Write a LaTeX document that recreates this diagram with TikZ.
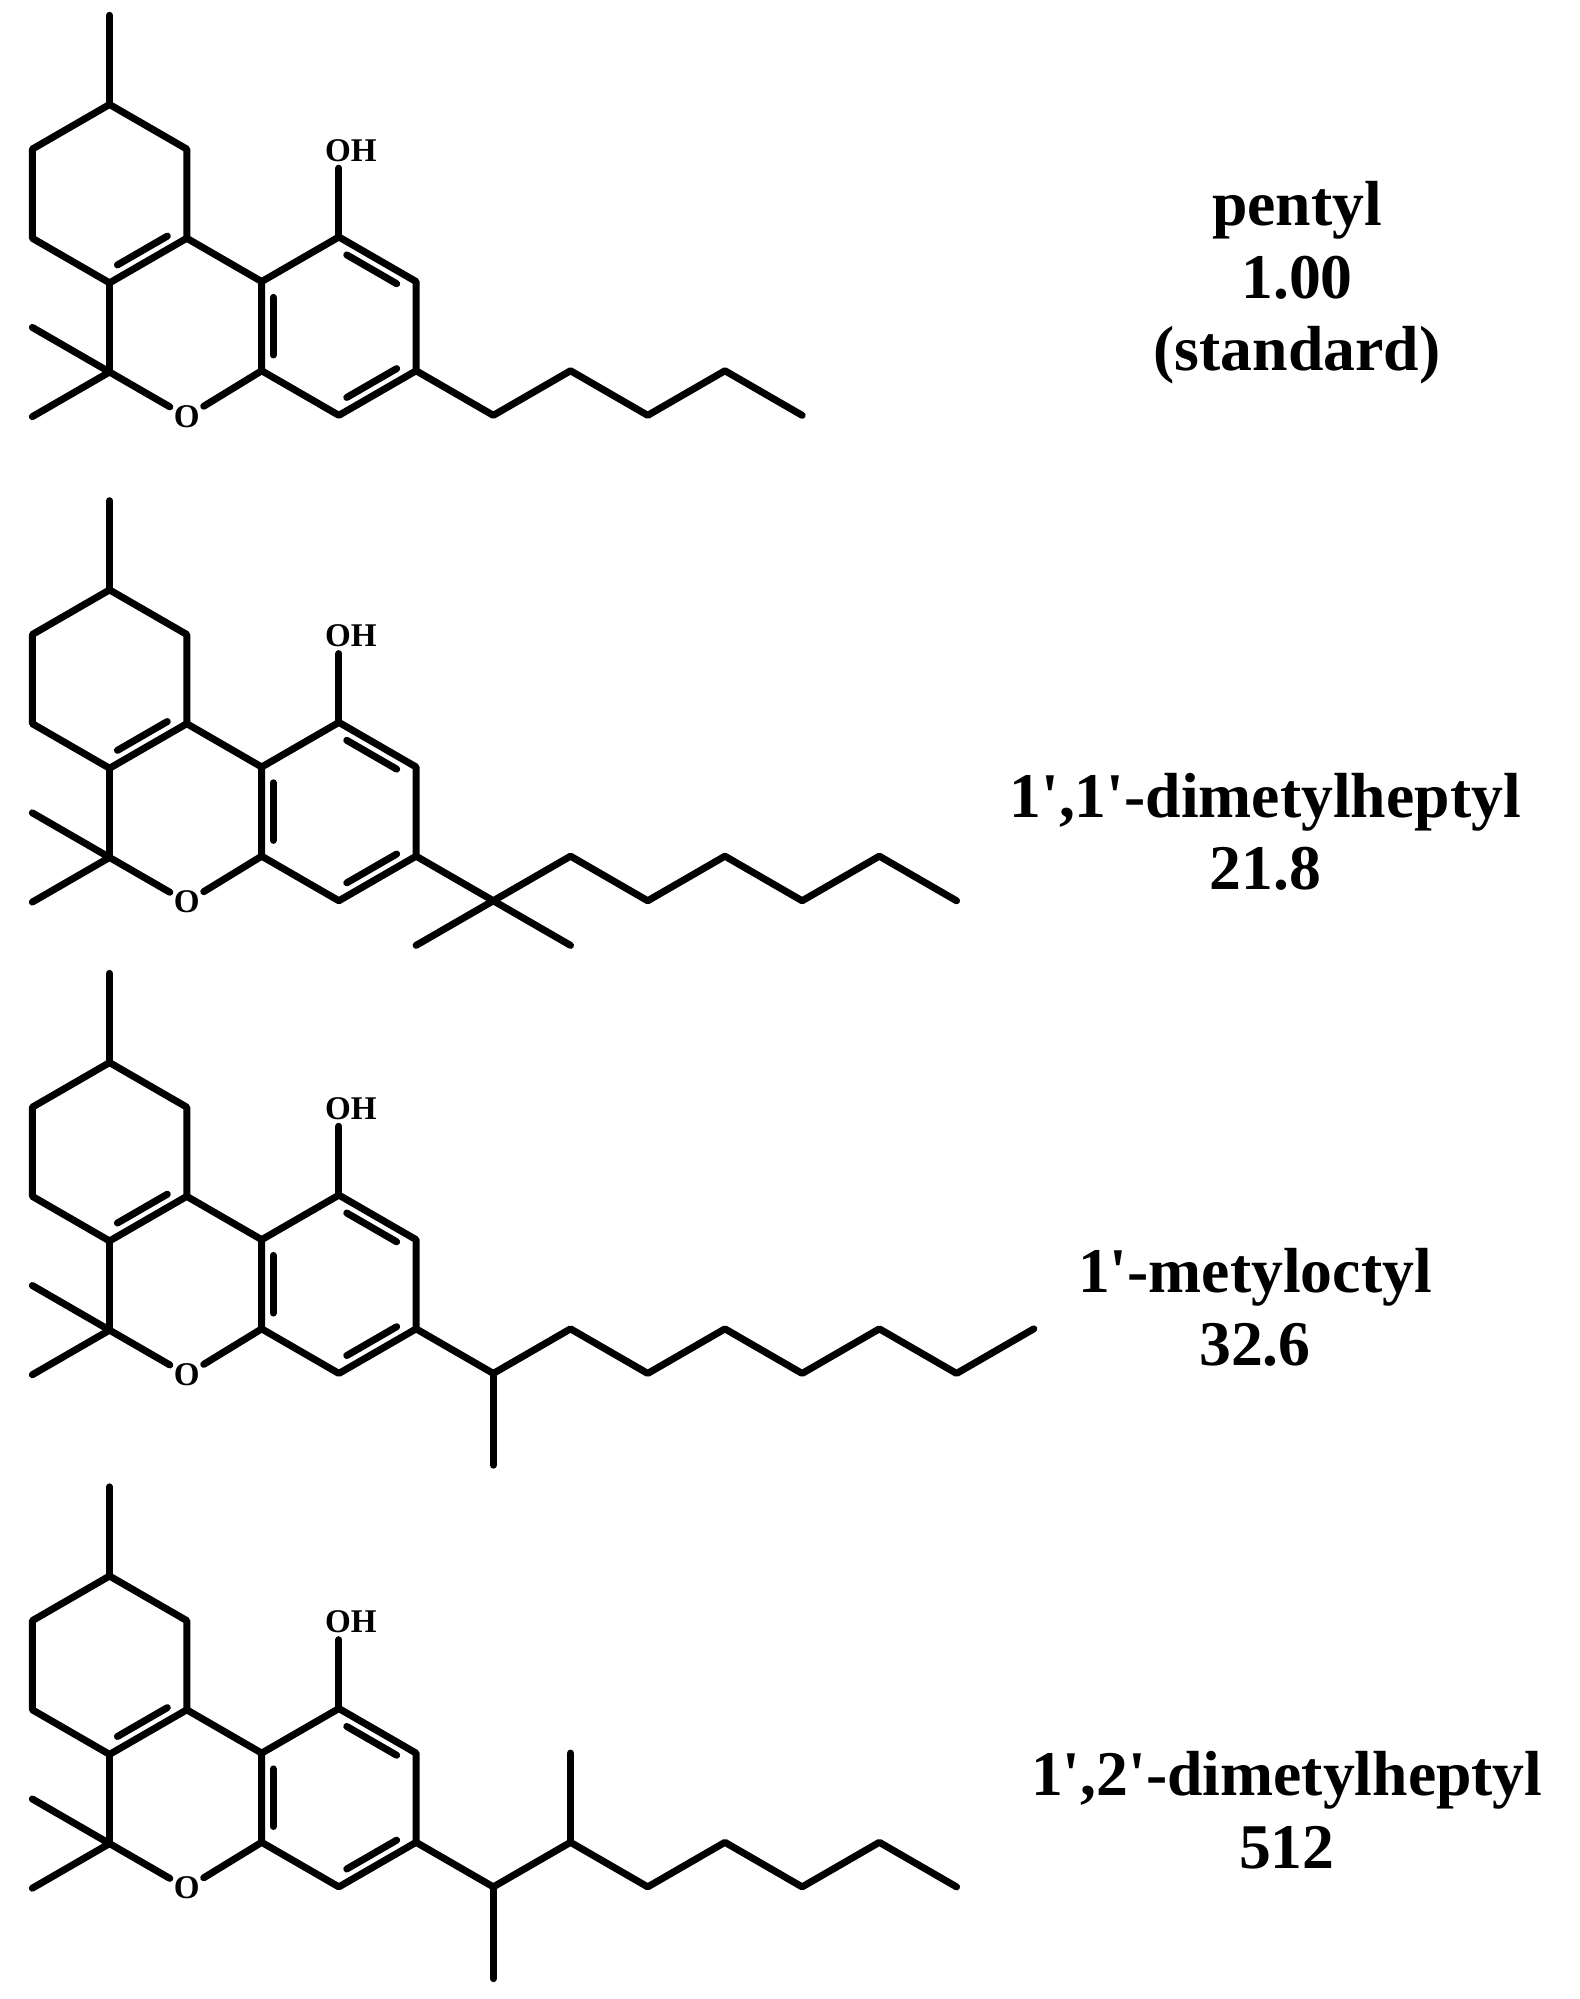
\documentclass[tikz,border=0pt]{standalone}
\usepackage{fontspec}
\setmainfont{Liberation Serif}[Ligatures=TeXOff]
\usetikzlibrary{calc}
\newcommand\q{'}
\tikzset{bond/.style={line width=5.5pt,line cap=round,line join=round},
 lbl/.style={font=\fontsize{50}{57}\selectfont\bfseries,align=center},
 atom/.style={font=\fontsize{26}{26}\selectfont\bfseries,inner sep=3pt}}
\newcommand\dbl[3]{\draw[bond] ($($(#1)!0.15!(#3)$)!0.12!($(#2)!0.15!(#3)$)$) -- ($($(#2)!0.15!(#3)$)!0.12!($(#1)!0.15!(#3)$)$);}
\newcommand\core{%
 \coordinate (a1) at (86,82); \coordinate (a2) at (146.6,117); \coordinate (a3) at (146.6,187);
 \coordinate (a4) at (86,222); \coordinate (a5) at (25.4,187); \coordinate (a6) at (25.4,117);
 \coordinate (ca) at (86,152); \coordinate (me) at (86,12);
 \coordinate (b1) at (266,186); \coordinate (b2) at (326.6,221); \coordinate (b3) at (326.6,291);
 \coordinate (b4) at (266,326); \coordinate (b5) at (205.4,291); \coordinate (b6) at (205.4,221);
 \coordinate (cb) at (266,256);
 \coordinate (g) at (86,292); \coordinate (g1) at (25.4,257); \coordinate (g2) at (25.4,327);
 \node[atom] (O) at (146.6,327) {O};
 \node[atom,anchor=west,inner sep=0pt] (OH) at (255,118) {OH};
 \coordinate (oh) at (266,132);
 \draw[bond] (me) -- (a1);
 \draw[bond] (a1) -- (a2) -- (a3) -- (a4) -- (a5) -- (a6) -- cycle;
 \dbl{a3}{a4}{ca}
 \draw[bond] (a3) -- (b6);
 \draw[bond] (b6) -- (b1) -- (b2) -- (b3) -- (b4) -- (b5) -- cycle;
 \dbl{b1}{b2}{cb} \dbl{b3}{b4}{cb} \dbl{b5}{b6}{cb}
 \draw[bond] (b1) -- (oh);
 \draw[bond] (a4) -- (g); \draw[bond] (g1) -- (g) -- (g2);
 \draw[bond] (g) -- (O) -- (b5);
}
\begin{document}
\begin{tikzpicture}[x=1pt,y=-1pt]
\useasboundingbox (0,0) rectangle (1240,1569);
\begin{scope}
 \core
 \draw[bond] (b3) -- (387.2,326) -- (447.8,291) -- (508.4,326) -- (569,291) -- (629.6,326);
 \node[lbl] (L1) at (1018,222) {pentyl\\1.00\\(standard)};
\end{scope}
\begin{scope}[shift={(0,381)}]
 \core
 \coordinate (q) at (387.2,326);
 \draw[bond] (b3) -- (q) -- (447.8,291) -- (508.4,326) -- (569,291) -- (629.6,326) -- (690.2,291) -- (750.8,326);
 \draw[bond] (326.6,361) -- (q) -- (447.8,361);
 \node[lbl] (L2) at (993,272) {1\q,1\q-dimetylheptyl\\21.8};
\end{scope}
\begin{scope}[shift={(0,752)}]
 \core
 \coordinate (q) at (387.2,326);
 \draw[bond] (b3) -- (q) -- (447.8,291) -- (508.4,326) -- (569,291) -- (629.6,326) -- (690.2,291) -- (750.8,326) -- (811.4,291);
 \draw[bond] (q) -- (387.2,398);
 \node[lbl] (L3) at (985,274) {1\q-metyloctyl\\32.6};
\end{scope}
\begin{scope}[shift={(0,1155)}]
 \core
 \coordinate (q) at (387.2,326); \coordinate (r) at (447.8,291);
 \draw[bond] (b3) -- (q) -- (r) -- (508.4,326) -- (569,291) -- (629.6,326) -- (690.2,291) -- (750.8,326);
 \draw[bond] (q) -- (387.2,398);
 \draw[bond] (r) -- (447.8,221);
 \node[lbl] (L4) at (1010,266) {1\q,2\q-dimetylheptyl\\512};
\end{scope}
\end{tikzpicture}
\end{document}
